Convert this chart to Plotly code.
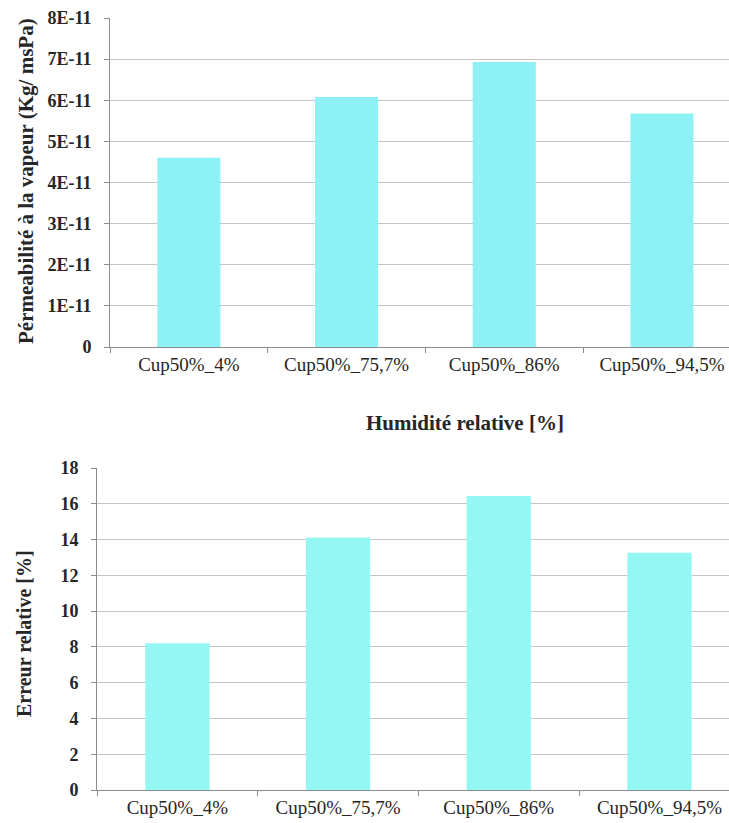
import plotly.graph_objects as go

categories = ["Cup50%_4%", "Cup50%_75,7%", "Cup50%_86%", "Cup50%_94,5%"]
permeability = [4.60e-11, 6.08e-11, 6.93e-11, 5.68e-11]
rel_error = [8.2, 14.12, 16.43, 13.26]

perm_tickvals = [0, 1e-11, 2e-11, 3e-11, 4e-11, 5e-11, 6e-11, 7e-11, 8e-11]
perm_ticktext = ["0", "1E-11", "2E-11", "3E-11", "4E-11", "5E-11", "6E-11", "7E-11", "8E-11"]
err_tickvals = [0, 2, 4, 6, 8, 10, 12, 14, 16, 18]

W, H = 729, 823
FONT = "Liberation Serif"
GRID = "#c4c4c4"
AXIS = "#8c8c8c"
TXT = "#262626"

fig = go.Figure()
fig.add_trace(go.Bar(x=categories, y=permeability, width=0.4,
                     marker=dict(color="#8ef1f5", line=dict(width=0)),
                     xaxis="x", yaxis="y", showlegend=False))
fig.add_trace(go.Bar(x=categories, y=rel_error, width=0.4,
                     marker=dict(color="#95f7f3", line=dict(width=0)),
                     xaxis="x2", yaxis="y2", showlegend=False))

def px(v):
    return v / W

def py(v):
    return 1 - v / H

top_left, top_cat = 110, 157.7
bot_left, bot_cat = 97, 160.7

xcommon = dict(type="category", tickson="boundaries", ticks="outside", ticklen=5,
               tickcolor=AXIS, showline=True, linecolor=AXIS, linewidth=1,
               showgrid=False, tickfont=dict(family=FONT, size=19, color=TXT),
               fixedrange=True, automargin=False)
ycommon = dict(ticks="outside", ticklen=5, tickcolor=AXIS, showline=True,
               linecolor=AXIS, linewidth=1, showgrid=True, gridcolor=GRID,
               gridwidth=1.3, zeroline=False, ticklabelstandoff=9,
               automargin=False, fixedrange=True,
               tickfont=dict(family=FONT, size=18, color=TXT, weight="bold"))

fig.update_layout(
    width=W, height=H,
    margin=dict(l=0, r=0, t=0, b=0, autoexpand=False),
    paper_bgcolor="white", plot_bgcolor="white",
    xaxis=dict(domain=[px(top_left), 1], anchor="y",
               range=[-0.5, (W - top_left) / top_cat - 0.5], **xcommon),
    yaxis=dict(domain=[py(347), py(18)], anchor="x", range=[0, 8e-11],
               tickvals=perm_tickvals, ticktext=perm_ticktext, **ycommon),
    xaxis2=dict(domain=[px(bot_left), 1], anchor="y2",
                range=[-0.5, (W - bot_left) / bot_cat - 0.5], **xcommon),
    yaxis2=dict(domain=[py(790), py(468)], anchor="x2", range=[0, 18],
                tickvals=err_tickvals, **ycommon),
    bargap=0.6,
)

fig.add_annotation(text="<b>Pérmeabilité à la vapeur (Kg/ msPa)</b>", textangle=-90,
                   x=px(26), y=py(181), xref="paper", yref="paper", showarrow=False,
                   xanchor="center", yanchor="middle",
                   font=dict(family=FONT, size=21, color=TXT))
fig.add_annotation(text="<b>Humidité relative [%]</b>",
                   x=px(465), y=py(423), xref="paper", yref="paper", showarrow=False,
                   xanchor="center", yanchor="middle",
                   font=dict(family=FONT, size=21, color=TXT))
fig.add_annotation(text="<b>Erreur relative [%]</b>", textangle=-90,
                   x=px(24), y=py(634), xref="paper", yref="paper", showarrow=False,
                   xanchor="center", yanchor="middle",
                   font=dict(family=FONT, size=20, color=TXT))

fig.write_html("out.html", config={"displayModeBar": False},
               post_script="document.body.style.margin='0';")
